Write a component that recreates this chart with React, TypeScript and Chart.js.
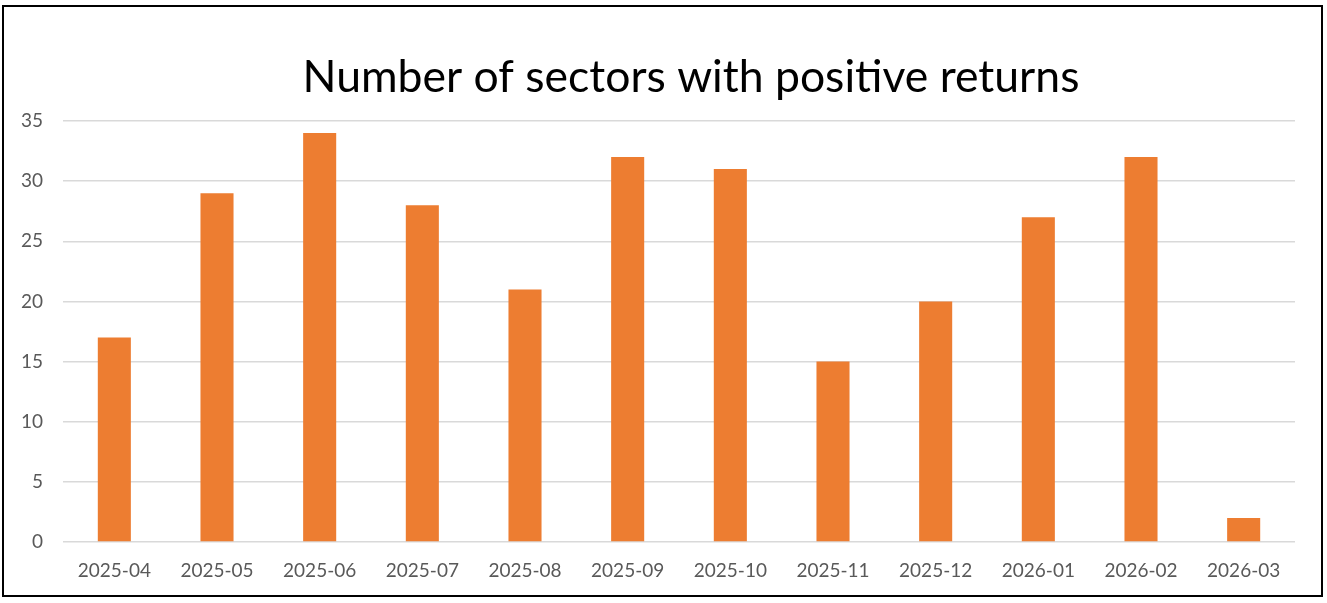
import React, { useEffect, useRef } from "react";
import { Chart, registerables } from "chart.js";

Chart.register(...registerables);

const categories = ["2025-04", "2025-05", "2025-06", "2025-07", "2025-08", "2025-09", "2025-10", "2025-11", "2025-12", "2026-01", "2026-02", "2026-03"];
const sectorCounts = [17, 29, 34, 28, 21, 32, 31, 15, 20, 27, 32, 2];
const chartTitle = "Number of sectors with positive returns";
const yMin = 0;
const yMax = 35;
const yStep = 5;

const FONT = "Lato, 'Open Sans', sans-serif";

const titlePlugin = {
  id: "customTitle",
  afterDraw(chart: any) {
    const ctx = chart.ctx;
    ctx.save();
    ctx.font = `400 44.5px ${FONT}`;
    ctx.fillStyle = "#000000";
    ctx.textAlign = "center";
    ctx.textBaseline = "alphabetic";
    ctx.fillText(chartTitle, 691, 92);
    ctx.restore();
  },
};

export default function App() {
  const ref = useRef<HTMLCanvasElement | null>(null);
  useEffect(() => {
    if (!ref.current) return;
    const chart = new Chart(ref.current, {
      type: "bar",
      data: {
        labels: categories,
        datasets: [
          {
            label: chartTitle,
            data: sectorCounts,
            backgroundColor: "#ED7D31",
            borderWidth: 0,
            categoryPercentage: 1,
            barPercentage: 0.322,
          },
        ],
      },
      plugins: [titlePlugin],
      options: {
        animation: false,
        responsive: false,
        devicePixelRatio: 1,
        layout: { padding: { top: 121, left: 0, right: 32, bottom: 0 } },
        plugins: {
          legend: { display: false },
          title: { display: false },
          tooltip: { enabled: false },
        },
        scales: {
          x: {
            grid: { display: false },
            border: { display: false },
            ticks: {
              color: "#595959",
              font: { family: FONT, size: 19 },
              padding: 9,
              maxRotation: 0,
              autoSkip: false,
            },
            afterFit(scale: any) {
              scale.height = 61;
            },
          },
          y: {
            min: yMin,
            max: yMax,
            grid: { color: "#D9D9D9", lineWidth: 1.5, drawTicks: false },
            border: { display: false },
            ticks: {
              stepSize: yStep,
              color: "#595959",
              font: { family: FONT, size: 19 },
              padding: 20,
            },
            afterFit(scale: any) {
              scale.width = 63;
            },
          },
        },
      },
    });
    return () => chart.destroy();
  }, []);

  return (
    <div style={{ position: "fixed", left: 0, top: 0, width: 1327, height: 603, background: "#fff" }}>
      <canvas ref={ref} width={1327} height={603} style={{ position: "absolute", left: 0, top: 0, width: 1327, height: 603 }} />
      <div
        style={{
          position: "absolute",
          left: 2,
          top: 5,
          width: 1321,
          height: 592,
          boxSizing: "border-box",
          border: "2px solid #000",
          pointerEvents: "none",
        }}
      />
    </div>
  );
}
